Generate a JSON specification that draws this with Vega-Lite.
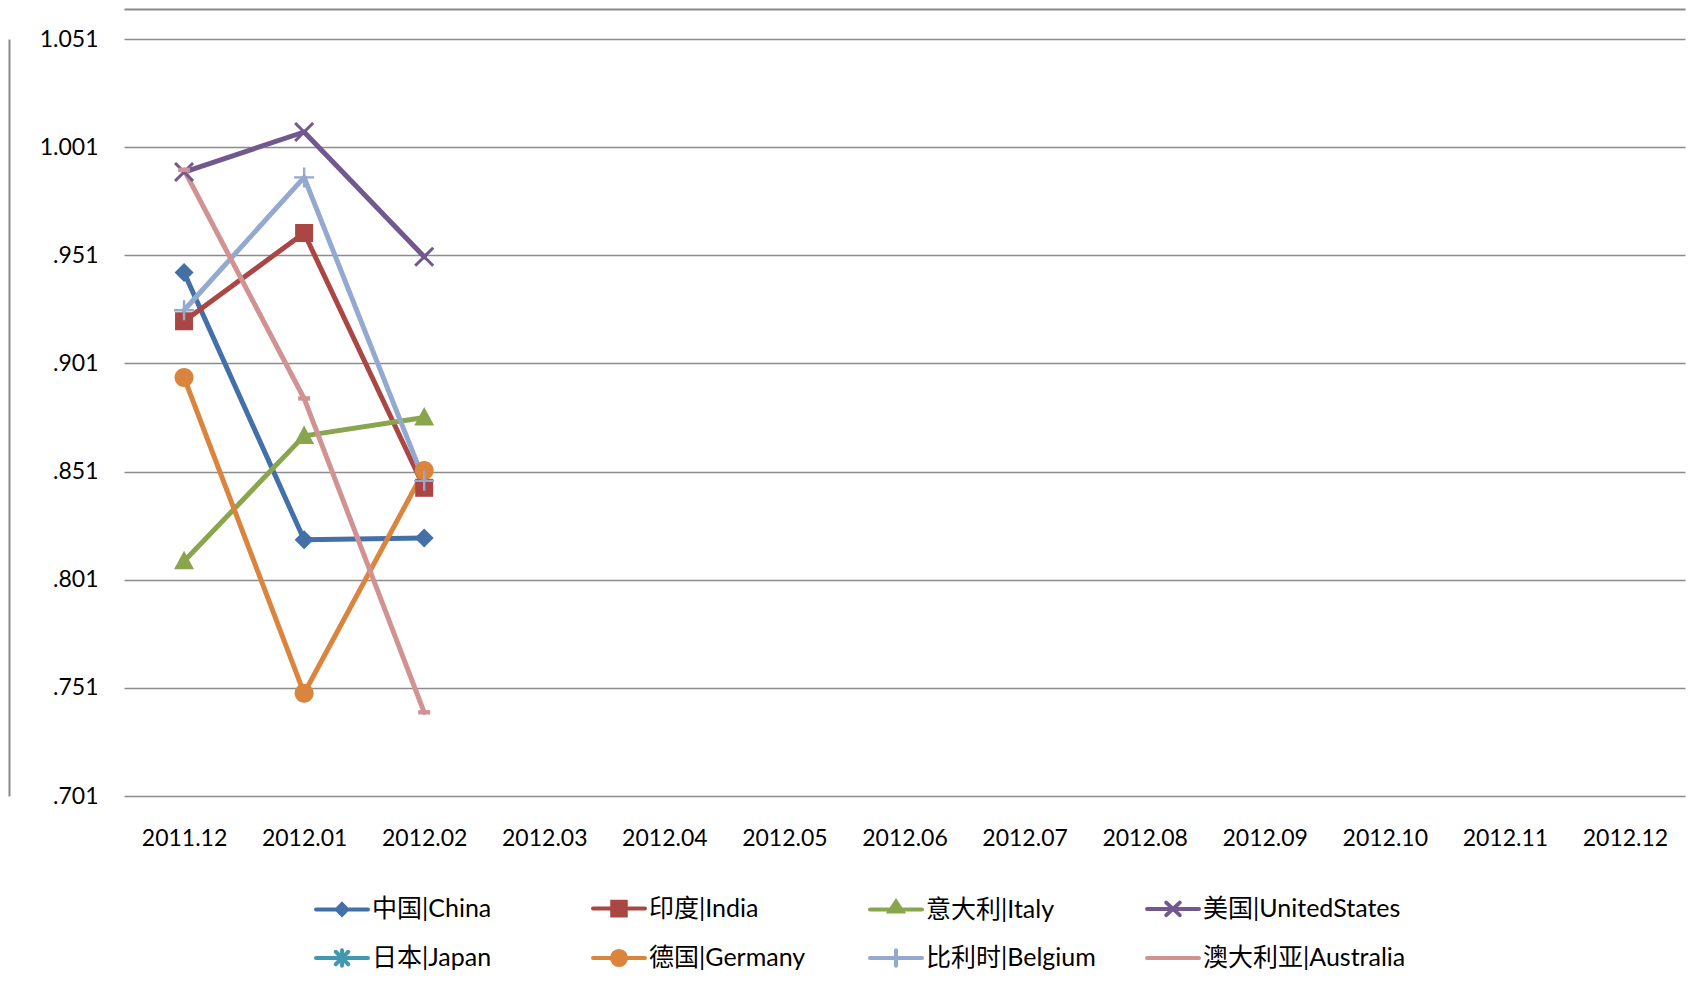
{
  "$schema": "https://vega.github.io/schema/vega-lite/v6.json",
  "width": 1561,
  "height": 757,
  "autosize": {"type": "none"},
  "padding": {"left": 124, "top": 39, "right": 12, "bottom": 191},
  "background": "white",
  "config": {
    "view": {"stroke": null},
    "font": "Lato, 'Noto Sans CJK SC'"
  },
  "data": {
    "values": [
      {"month": "2011.12", "country": "中国|China", "value": 0.943},
      {"month": "2012.01", "country": "中国|China", "value": 0.8195},
      {"month": "2012.02", "country": "中国|China", "value": 0.8203},
      {"month": "2011.12", "country": "印度|India", "value": 0.9205},
      {"month": "2012.01", "country": "印度|India", "value": 0.9613},
      {"month": "2012.02", "country": "印度|India", "value": 0.8435},
      {"month": "2011.12", "country": "意大利|Italy", "value": 0.8095},
      {"month": "2012.01", "country": "意大利|Italy", "value": 0.8675},
      {"month": "2012.02", "country": "意大利|Italy", "value": 0.876},
      {"month": "2011.12", "country": "美国|UnitedStates", "value": 0.9895},
      {"month": "2012.01", "country": "美国|UnitedStates", "value": 1.008},
      {"month": "2012.02", "country": "美国|UnitedStates", "value": 0.9503},
      {"month": "2011.12", "country": "德国|Germany", "value": 0.8945},
      {"month": "2012.01", "country": "德国|Germany", "value": 0.7485},
      {"month": "2012.02", "country": "德国|Germany", "value": 0.8515},
      {"month": "2011.12", "country": "比利时|Belgium", "value": 0.9256},
      {"month": "2012.01", "country": "比利时|Belgium", "value": 0.987},
      {"month": "2012.02", "country": "比利时|Belgium", "value": 0.8467},
      {"month": "2011.12", "country": "澳大利亚|Australia", "value": 0.9905},
      {"month": "2012.01", "country": "澳大利亚|Australia", "value": 0.8848},
      {"month": "2012.02", "country": "澳大利亚|Australia", "value": 0.7397}
    ]
  },
  "encoding": {
    "x": {
      "field": "month",
      "type": "ordinal",
      "scale": {
        "domain": ["2011.12", "2012.01", "2012.02", "2012.03", "2012.04", "2012.05", "2012.06", "2012.07", "2012.08", "2012.09", "2012.10", "2012.11", "2012.12"],
        "padding": 0.5
      },
      "axis": {
        "title": null,
        "labelAngle": 0,
        "ticks": false,
        "domain": false,
        "grid": false,
        "labelFontSize": 23,
        "labelColor": "#000000",
        "labelPadding": 31,
        "labelFont": "Lato"
      }
    },
    "y": {
      "field": "value",
      "type": "quantitative",
      "scale": {"domain": [0.701, 1.051], "nice": false, "zero": false},
      "axis": {
        "title": null,
        "values": [0.701, 0.751, 0.801, 0.851, 0.901, 0.951, 1.001, 1.051],
        "labelExpr": "datum.value >= 1 ? format(datum.value, '.3f') : replace(format(datum.value, '.3f'), '0.', '.')",
        "ticks": false,
        "domain": false,
        "grid": true,
        "gridColor": "#8C8C8C",
        "gridWidth": 1.6,
        "labelFontSize": 23,
        "labelColor": "#000000",
        "labelPadding": 26,
        "labelFont": "Lato"
      }
    },
    "color": {
      "field": "country",
      "type": "nominal",
      "scale": {
        "domain": ["中国|China", "印度|India", "意大利|Italy", "美国|UnitedStates", "日本|Japan", "德国|Germany", "比利时|Belgium", "澳大利亚|Australia"],
        "range": ["#4470A8", "#AA4643", "#89A54E", "#71588F", "#4198AF", "#DB843D", "#93A9CF", "#D19392"]
      },
      "legend": {
        "title": null,
        "orient": "none",
        "legendX": 190,
        "legendY": 841,
        "direction": "horizontal",
        "columns": 4,
        "gridAlign": "all",
        "columnPadding": 10,
        "rowPadding": 6,
        "symbolSize": 2704,
        "labelOffset": 2,
        "labelFontSize": 25,
        "labelColor": "#000000",
        "labelFont": "Lato, 'Noto Sans CJK SC'",
        "labelLimit": 400,
        "encode": {
          "symbols": {
            "update": {
              "shape": {"signal": "['M-1,0H1M0,-0.2L0.2,0L0,0.2L-0.2,0Z','M-1,0H1M-0.26,-0.26H0.26V0.26H-0.26Z','M-1,0H1M0,-0.3L0.25,0.08H-0.25Z','M-1,0H1M-0.26,-0.24L0.26,0.24M-0.26,0.24L0.26,-0.24','M-1,0H1M-0.24,-0.24L0.24,0.24M-0.24,0.24L0.24,-0.24M0,-0.3V0.3','M-1,0H1M-0.27,0A0.27,0.27,0,1,0,0.27,0A0.27,0.27,0,1,0,-0.27,0Z','M-1,0H1M0,-0.3V0.3','M-1,0H1'][indexof(['中国|China','印度|India','意大利|Italy','美国|UnitedStates','日本|Japan','德国|Germany','比利时|Belgium','澳大利亚|Australia'], datum.value)]"},
              "fill": {"signal": "scale('color', datum.value)"},
              "stroke": {"signal": "scale('color', datum.value)"},
              "strokeWidth": {"value": 4},
              "strokeCap": {"value": "round"},
              "opacity": {"value": 1},
              "fillOpacity": {"value": 1}
            }
          }
        }
      }
    }
  },
  "resolve": {"axis": {"x": "independent", "y": "independent"}},
  "layer": [
    {
      "layer": [
        {
          "mark": {"type": "line", "strokeWidth": 5, "strokeJoin": "round", "strokeCap": "round"}
        },
        {
          "transform": [{"filter": {"field": "country", "equal": "中国|China"}}],
          "mark": {"type": "point", "filled": true, "opacity": 1, "size": 400, "shape": "M0,-0.95L0.95,0L0,0.95L-0.95,0Z"}
        },
        {
          "transform": [{"filter": {"field": "country", "equal": "印度|India"}}],
          "mark": {"type": "point", "filled": true, "opacity": 1, "size": 400, "shape": "M-0.9,-0.9H0.9V0.9H-0.9Z"}
        },
        {
          "transform": [{"filter": {"field": "country", "equal": "意大利|Italy"}}],
          "mark": {"type": "point", "filled": true, "opacity": 1, "size": 400, "shape": "M0,-1.05L1.0,0.8H-1.0Z"}
        },
        {
          "transform": [{"filter": {"field": "country", "equal": "美国|UnitedStates"}}],
          "mark": {"type": "point", "filled": true, "opacity": 1, "size": 400, "shape": "M-0.794,-1.006L1.006,0.794L0.794,1.006L-1.006,-0.794ZM-1.006,0.794L0.794,-1.006L1.006,-0.794L-0.794,1.006Z"}
        },
        {
          "transform": [{"filter": {"field": "country", "equal": "德国|Germany"}}],
          "mark": {"type": "point", "filled": true, "opacity": 1, "size": 400, "shape": "M-0.95,0A0.95,0.95,0,1,0,0.95,0A0.95,0.95,0,1,0,-0.95,0Z"}
        },
        {
          "transform": [{"filter": {"field": "country", "equal": "比利时|Belgium"}}],
          "mark": {"type": "point", "filled": true, "opacity": 1, "size": 400, "shape": "M-1,-0.12H-0.12V-1H0.12V-0.12H1V0.12H0.12V1H-0.12V0.12H-1Z"}
        },
        {
          "transform": [{"filter": {"field": "country", "equal": "澳大利亚|Australia"}}],
          "mark": {"type": "point", "filled": true, "opacity": 1, "size": 400, "shape": "M-0.6,-0.22H0.6V0.22H-0.6Z"}
        }
      ]
    },
    {
      "mark": {"type": "point", "opacity": 0},
      "encoding": {
        "color": {"value": "transparent"},
        "x": {
          "field": "month",
          "type": "ordinal",
          "scale": {
            "domain": ["2011.12", "2012.01", "2012.02", "2012.03", "2012.04", "2012.05", "2012.06", "2012.07", "2012.08", "2012.09", "2012.10", "2012.11", "2012.12"],
            "padding": 0.5
          },
          "axis": {"orient": "top", "offset": 30, "labels": false, "ticks": false, "grid": false, "domain": true, "domainColor": "#898989", "domainWidth": 2, "title": null}
        },
        "y": {
          "field": "value",
          "type": "quantitative",
          "scale": {"domain": [0.701, 1.051], "nice": false, "zero": false},
          "axis": {"orient": "left", "offset": 115, "labels": false, "ticks": false, "grid": false, "domain": true, "domainColor": "#898989", "domainWidth": 2, "title": null}
        }
      }
    }
  ]
}
